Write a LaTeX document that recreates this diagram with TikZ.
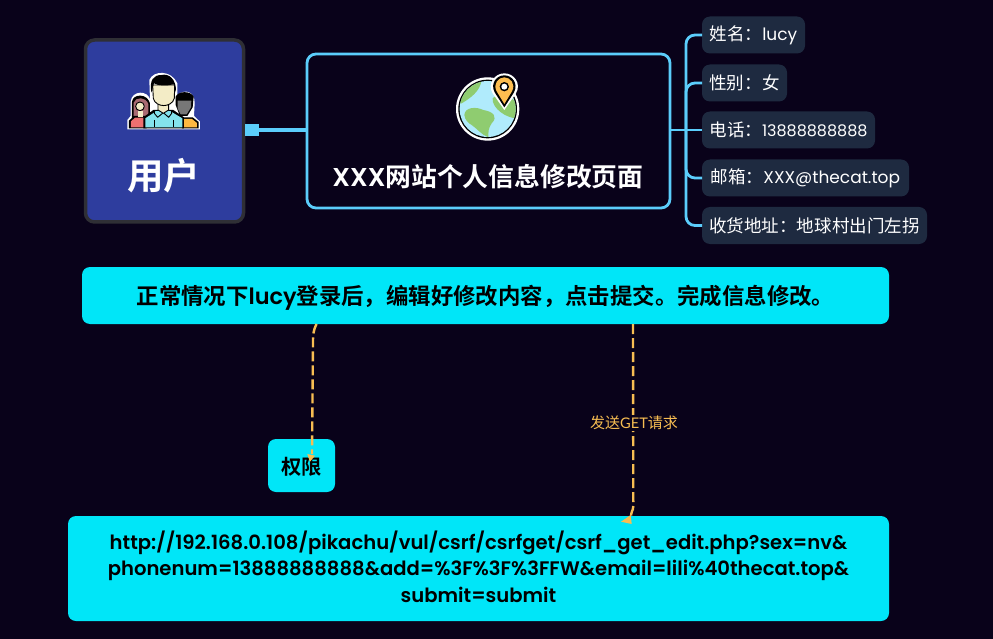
\documentclass[tikz,border=0pt]{standalone}
\usepackage{fontspec}
\usetikzlibrary{calc,arrows.meta}
\setmainfont{Poppins}
\newfontfamily\cjkr[Scale=1.03]{Noto Sans CJK SC}
\newfontfamily\cjkb{Noto Sans CJK SC Bold}
\newfontfamily\latb{Poppins SemiBold}
\newcommand{\cn}[1]{{\cjkr #1}}
\newcommand{\cb}[1]{{\cjkb #1}}
\newcommand{\lowered}[2]{\raisebox{-#1}[\height][\depth]{#2}}
\definecolor{bgc}{HTML}{09021A}
\definecolor{blueline}{HTML}{5BCDFB}
\definecolor{userfill}{HTML}{2E3D9E}
\definecolor{useredge}{HTML}{2F2F35}
\definecolor{leaf}{HTML}{1E2A40}
\definecolor{cyanbox}{HTML}{00E6F8}
\definecolor{amber}{HTML}{F7BD52}
\definecolor{skin}{HTML}{F3ECC6}
\definecolor{shirt}{HTML}{84E3EC}
\definecolor{rose}{HTML}{EE7070}
\definecolor{mauve}{HTML}{A86A72}
\definecolor{greyface}{HTML}{777777}
\definecolor{orangeshirt}{HTML}{FDB840}
\definecolor{sea}{HTML}{B0EBFC}
\definecolor{land}{HTML}{8FCC70}
\definecolor{pinorange}{HTML}{FDBD50}
\tikzset{
  x=1pt,y=-1pt,
  box/.style={inner sep=0pt,outer sep=0pt,anchor=north west,align=center},
  leafbox/.style={box,fill=leaf,rounded corners=8pt,text=white,font=\fontsize{17}{20}\selectfont},
  cyanb/.style={box,fill=cyanbox,rounded corners=8pt,text=black},
  link/.style={draw=blueline,line width=2.8pt},
  mainlink/.style={draw=blueline,line width=3.6pt},
  dashlink/.style={draw=amber,line width=2.4pt,dash pattern=on 10pt off 4pt},
  tip/.style={fill=amber,draw=none},
  ic/.style={draw=black,line width=0.9pt,line join=round},
}
\begin{document}
\begin{tikzpicture}
\useasboundingbox[fill=bgc] (0,0) rectangle (993,639);

% nodes
\node[box,fill=userfill,draw=useredge,line width=3.5pt,rounded corners=9pt,minimum width=158pt,minimum height=182pt] (user) at (85.5,40) {};
\node[text=white,font=\fontsize{36.5}{40}\selectfont] (usertext) at (163.5,176) {\cb{用户}};
\node[box,draw=blueline,line width=2.8pt,rounded corners=9pt,minimum width=363pt,minimum height=154pt] (page) at (307,54) {};
\node[text=white,font=\fontsize{25.8}{30}\selectfont] (pagetext) at (488,176.5) {{\latb XXX}\cb{网站个人信息修改页面}};

\node[leafbox,minimum width=103pt,minimum height=37pt] (l1) at (702,16.5) {\cn{姓名：}lucy};
\node[leafbox,minimum width=85pt,minimum height=37pt] (l2) at (702,64.5) {\cn{性别：女}};
\node[leafbox,minimum width=173pt,minimum height=37pt] (l3) at (702,111.5) {\cn{电话：}{\fontsize{16}{20}\selectfont 13888888888}};
\node[leafbox,minimum width=207pt,minimum height=37pt] (l4) at (702,159.5) {\cn{邮箱：}XXX@thecat.top};
\node[leafbox,minimum width=225pt,minimum height=37pt] (l5) at (702,207) {\cn{收货地址：地球村出门左拐}};

\node[cyanb,minimum width=807pt,minimum height=57pt,font=\fontsize{22.4}{26}\selectfont] (banner) at (82,267) {\lowered{2pt}{\cb{正常情况下}{\latb lucy}\cb{登录后，编辑好修改内容，点击提交。完成信息修改。}}};
\node[cyanb,minimum width=67pt,minimum height=53pt,font=\fontsize{20.3}{24}\selectfont] (perm) at (268,439) {\lowered{1pt}{\cb{权限}}};
\node[cyanb,minimum width=821pt,minimum height=105pt,text width=821pt,font=\fontsize{19.6}{26.5}\selectfont\latb] (url) at (68,516) {http://192.168.0.108/pikachu/vul/csrf/csrfget/csrf\_get\_edit.php?sex=nv\&\\phonenum=13888888888\&add=\%3F\%3F\%3FFW\&email=lili\%40thecat.top\&\\submit=submit\rule[-4pt]{0pt}{0pt}};

% user -> page
\coordinate (uo) at ($(user.east)+(1.5,-1)$);
\fill[blueline] (uo) ++(0,-6) rectangle ++(14,12);
\draw[mainlink] (uo) -- (uo -| page.west);

% page -> leaves
\coordinate (po) at ($(page.east)+(0,-1)$);
\coordinate (trunk) at ($(po)+(16,0)$);
\draw[link] (po) -- (l3.west);
\draw[link,rounded corners=9pt] (trunk) |- (l1.west);
\draw[link,rounded corners=9pt] (trunk) |- (l2.west);
\draw[link,rounded corners=9pt] (trunk) |- (l4.west);
\draw[link,rounded corners=9pt] (trunk) |- (l5.west);

% dashed connectors
\coordinate (a1) at ($(banner.south west)+(234.5,0)$);
\coordinate (a2) at ($(perm.north west)+(44,21)$);
\coordinate (b1) at ($(banner.south west)+(551,0)$);
\coordinate (b2) at ($(url.north west)+(563,2)$);
\draw[dashlink] (a1) .. controls ($(a1)+(-3,6)$) and ($(a1)+(-3.5,10)$) .. ($(a1)+(-3.5,18)$) -- ($(a2)+(0,-6)$);
\fill[tip] ($(a2)+(-4.7,-6)$) -- ($(a2)+(3,-4.3)$) -- ($(a2)+(-2,1.7)$) -- cycle;
\draw[dashlink] (b1) -- ($(b1)+(0.3,182)$) .. controls ($(b1)+(0,188)$) and ($(b2)+(0,-8)$) .. (b2);
\fill[tip] ($(b2)+(-10,3.7)$) -- ($(b2)+(-0.3,-3)$) -- ($(b2)+(0.7,6)$) -- cycle;
\node[fill=bgc,inner sep=1pt,text=amber,font=\fontsize{14.6}{16}\selectfont] (lbl) at (634,423) {\cn{发送}{\fontspec{Lato}GET}\cn{请求}};

% people icon (zoom-crop coordinates)
\begin{scope}[shift={(70,30)},x=0.3333pt,y=-0.3333pt]
  % outline halo
  \fill[white] (172,298) -- (172,270) -- (182,258) -- (182,215) .. controls (185,180) and (235,180) .. (240,210) -- (238,150) .. controls (250,120) and (305,120) .. (322,160) -- (322,195) .. controls (345,175) and (375,185) .. (374,220) -- (372,258) -- (390,275) -- (390,298) -- cycle;
  % left woman
  \fill[black] (186,266) -- (186,215) .. controls (190,190) and (232,190) .. (240,220) -- (240,266) -- cycle;
  \fill[mauve] (191,258) -- (191,218) .. controls (196,200) and (228,200) .. (235,222) -- (235,258) -- cycle;
  \filldraw[ic,fill=skin] (210,229) circle (13);
  \fill[black] (177,295) -- (177,272) -- (192,258) -- (230,258) -- (230,295) -- cycle;
  \fill[rose] (183,292) -- (183,274) -- (195,263) -- (226,263) -- (226,292) -- cycle;
  \fill[skin] (203,243) rectangle (219,262);
  % right man
  \fill[black] (317,225) -- (317,200) .. controls (325,182) and (362,182) .. (371,200) -- (368,232) -- (352,258) -- (330,258) -- cycle;
  \fill[greyface] (323,212) -- (364,212) -- (363,232) -- (350,253) -- (332,253) -- (323,235) -- cycle;
  \fill[black] (336,295) -- (336,262) -- (368,262) -- (386,276) -- (386,295) -- cycle;
  \fill[orangeshirt] (342,292) -- (342,267) -- (366,267) -- (381,279) -- (381,292) -- cycle;
  % main man
  \fill[black] (220,295) -- (220,262) -- (250,240) -- (310,240) -- (342,262) -- (342,295) -- cycle;
  \fill[shirt] (226,292) -- (226,265) -- (255,246) -- (305,246) -- (337,265) -- (337,292) -- cycle;
  \filldraw[ic,fill=shirt] (253,242) -- (280,240) -- (305,242) -- (305,250) -- (296,262) -- (280,248) -- (263,262) -- (253,250) -- cycle;
  \draw[ic] (254,270) -- (254,292) (310,270) -- (310,292);
  \filldraw[ic,fill=skin] (264,215) -- (296,215) -- (296,240) -- (280,250) -- (264,240) -- cycle;
  \filldraw[ic,fill=skin] (248,165) -- (314,165) -- (313,205) .. controls (305,234) and (257,234) .. (250,205) -- cycle;
  \fill[black] (244,188) .. controls (238,150) and (250,135) .. (275,135) .. controls (295,130) and (320,145) .. (318,188) -- (311,163) .. controls (290,168) and (265,168) .. (252,160) -- cycle;
\end{scope}

% globe icon
\begin{scope}[shift={(420,60)},x=0.3333pt,y=-0.3333pt]
  \fill[white] (203,147) circle (95);
  \fill[black] (203,147) circle (88);
  \begin{scope}
    \clip (203,147) circle (84);
    \fill[sea] (203,147) circle (86);
    \fill[land] (100,60) -- (185,60) .. controls (180,95) and (150,115) .. (125,130) -- (100,130) -- cycle;
    \fill[land] (133,165) .. controls (135,140) and (170,140) .. (190,150) .. controls (220,155) and (235,170) .. (215,190) .. controls (205,205) and (205,215) .. (205,232) .. controls (185,225) and (170,205) .. (155,195) .. controls (145,190) and (135,180) .. (133,165) -- cycle;
    \fill[land] (218,115) .. controls (225,105) and (260,100) .. (295,130) -- (290,175) .. controls (260,175) and (215,145) .. (218,115) -- cycle;
  \end{scope}
  % map marker
  \fill[white] (253,150) -- (218,100) .. controls (200,70) and (225,40) .. (253,40) .. controls (282,40) and (305,70) .. (288,100) -- cycle;
  \fill[black] (253,142) -- (224,97) .. controls (210,70) and (230,46) .. (253,46) .. controls (276,46) and (296,70) .. (282,97) -- cycle;
  \fill[pinorange] (253,132) -- (230,94) .. controls (218,72) and (235,52) .. (253,52) .. controls (271,52) and (288,72) .. (276,94) -- cycle;
  \fill[black] (253,80) circle (14);
  \fill[white] (253,80) circle (9);
\end{scope}
\end{tikzpicture}
\end{document}
